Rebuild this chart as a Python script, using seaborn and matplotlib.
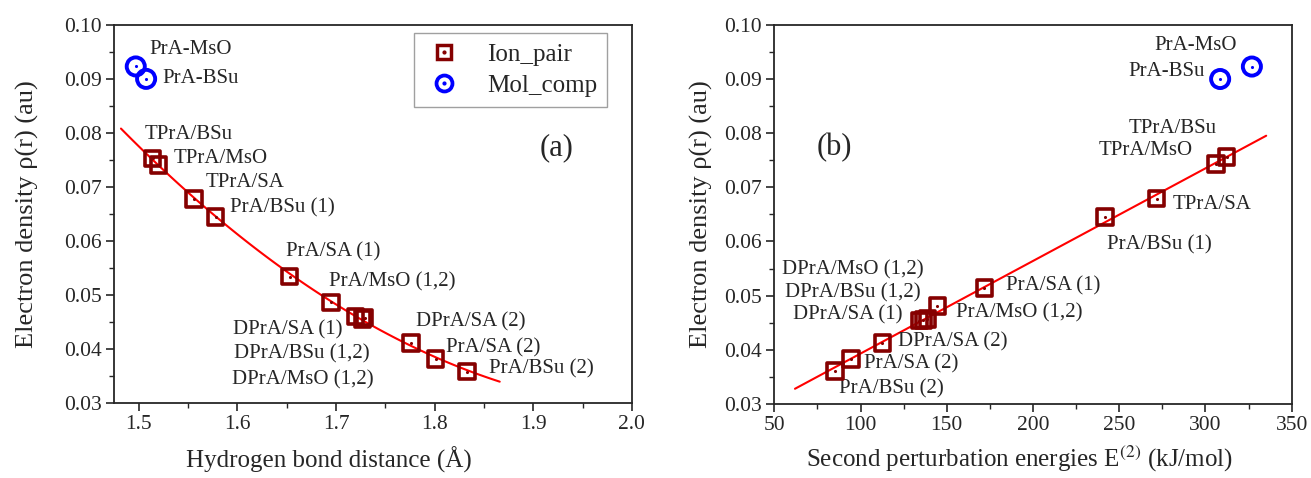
import numpy as np
import pandas as pd
import matplotlib
matplotlib.use("Agg")
import matplotlib.pyplot as plt
import seaborn as sns
from matplotlib.lines import Line2D

# --- data ---
ion_labels = ["TPrA/BSu", "TPrA/MsO", "TPrA/SA", "PrA/BSu (1)", "PrA/SA (1)",
              "PrA/MsO (1,2)", "DPrA/SA (1)", "DPrA/BSu (1,2)", "DPrA/MsO (1,2)",
              "DPrA/SA (2)", "PrA/SA (2)", "PrA/BSu (2)"]
hb_dist = [1.514, 1.520, 1.556, 1.578, 1.653, 1.695, 1.720, 1.727, 1.729, 1.776, 1.801, 1.833]
rho_a = [0.0753, 0.0741, 0.0678, 0.0644, 0.0534, 0.0486, 0.0460, 0.0455, 0.0458, 0.0411, 0.0381, 0.0358]
e2 = [312.2, 306.2, 271.6, 241.8, 171.8, 144.5, 134.1, 136.4, 138.7, 112.7, 94.5, 85.2]
rho_b = [0.0756, 0.0743, 0.0679, 0.0645, 0.0514, 0.0481, 0.0454, 0.0455, 0.0457, 0.0412, 0.0383, 0.0361]

mol_labels = ["PrA-MsO", "PrA-BSu"]
mol_hb_dist = [1.497, 1.5075]
mol_rho_a = [0.0923, 0.0900]
mol_e2 = [326.9, 308.5]
mol_rho_b = [0.0923, 0.0900]

# label offsets in pixels (dx right, dy up) relative to each point
ion_off_a = [(-8, 24), (15, 6), (12, 16), (14, 9), (-4, 25), (-2, 21),
             (-123, -13), (-129, -35), (-133, -62), (5, 21), (10, 11), (22, 3)]
mol_off_a = [(14, 17), (16, 0)]
ion_off_b = [(-98, 28), (-118, 14), (16, -6), (2, -28), (22, 2), (19, -7),
             (-126, 6), (-138, 27), (-145, 49), (16, 1), (13, -5), (4, -18)]
mol_off_b = [(-98, 21), (-92, 8)]

DARKRED = "#850000"
BLUE = "#0000FF"

sns.set_style("ticks")
plt.rcParams["font.family"] = ["Liberation Serif", "DejaVu Serif"]
plt.rcParams["mathtext.fontset"] = "stix"

ion_a = pd.DataFrame({"x": hb_dist, "y": rho_a})
mol_a = pd.DataFrame({"x": mol_hb_dist, "y": mol_rho_a})
ion_b = pd.DataFrame({"x": e2, "y": rho_b})
mol_b = pd.DataFrame({"x": mol_e2, "y": mol_rho_b})

fig = plt.figure(figsize=(13.11, 4.78), dpi=100)
ax1 = fig.add_axes([0.087, 0.157, 0.395, 0.791])
ax2 = fig.add_axes([0.5906, 0.155, 0.3947, 0.793])


def draw_points(ax, ion, mol):
    sns.scatterplot(data=ion, x="x", y="y", ax=ax, marker="s", s=125,
                    color=DARKRED, facecolor="none", edgecolor=DARKRED,
                    linewidth=2.6, zorder=4)
    sns.scatterplot(data=ion, x="x", y="y", ax=ax, marker="o", s=5,
                    color=DARKRED, edgecolor=DARKRED, linewidth=0, zorder=5)
    sns.scatterplot(data=mol, x="x", y="y", ax=ax, marker="o", s=170,
                    color=BLUE, facecolor="none", edgecolor=BLUE,
                    linewidth=2.8, zorder=4)
    sns.scatterplot(data=mol, x="x", y="y", ax=ax, marker="o", s=5,
                    color=BLUE, edgecolor=BLUE, linewidth=0, zorder=5)


def add_labels(ax, labels, xs, ys, offs):
    for lab, x, y, (dx, dy) in zip(labels, xs, ys, offs):
        ax.annotate(lab, (x, y), xytext=(dx, dy), textcoords="offset pixels",
                    ha="left", va="center", fontsize=15)


def style_axis(ax, ypad):
    ax.set_ylim(0.03, 0.10)
    ax.set_yticks(np.arange(0.03, 0.1001, 0.01))
    ax.yaxis.set_major_formatter(matplotlib.ticker.FormatStrFormatter("%.2f"))
    ax.yaxis.set_minor_locator(matplotlib.ticker.AutoMinorLocator(2))
    ax.xaxis.set_minor_locator(matplotlib.ticker.AutoMinorLocator(2))
    ax.tick_params(which="major", direction="out", length=6, width=1.2,
                   labelsize=15.5, top=False, right=False, pad=3)
    ax.tick_params(which="minor", direction="out", length=3.5, width=1.0,
                   top=False, right=False)
    for sp in ax.spines.values():
        sp.set_visible(True)
        sp.set_linewidth(1.3)
    ax.set_ylabel("Electron density ρ(r) (au)", fontsize=19, labelpad=ypad)


# --- panel (a) ---
coef_a = np.polyfit(hb_dist, rho_a, 2)
xa = np.linspace(1.482, 1.866, 100)
sns.lineplot(x=xa, y=np.polyval(coef_a, xa), ax=ax1, color="red", linewidth=1.5, zorder=3)
draw_points(ax1, ion_a, mol_a)
add_labels(ax1, ion_labels, hb_dist, rho_a, ion_off_a)
add_labels(ax1, mol_labels, mol_hb_dist, mol_rho_a, mol_off_a)
ax1.set_xlim(1.475, 2.0)
ax1.set_xticks([1.5, 1.6, 1.7, 1.8, 1.9, 2.0])
ax1.xaxis.set_major_formatter(matplotlib.ticker.FormatStrFormatter("%.1f"))
style_axis(ax1, 18)
ax1.set_xlabel("Hydrogen bond distance (Å)", fontsize=18, labelpad=9, x=0.415)
ax1.text(0.855, 0.675, "(a)", transform=ax1.transAxes, fontsize=22, ha="center", va="center")

handles = [
    (Line2D([], [], marker="s", ls="", ms=10.5, mfc="none", mec=DARKRED, mew=2.5),
     Line2D([], [], marker="o", ls="", ms=2, color=DARKRED)),
    (Line2D([], [], marker="o", ls="", ms=11.5, mfc="none", mec=BLUE, mew=2.7),
     Line2D([], [], marker="o", ls="", ms=2, color=BLUE)),
]
leg = ax1.legend(handles, ["Ion_pair", "Mol_comp"], loc="upper right",
                 bbox_to_anchor=(0.952, 0.978), borderaxespad=0, fontsize=18,
                 frameon=True, fancybox=False, edgecolor="#888888",
                 handlelength=1.6, handletextpad=0.9, borderpad=0.4,
                 labelspacing=0.35)
leg.get_frame().set_linewidth(1.0)

# --- panel (b) ---
coef_b = np.polyfit(e2, rho_b, 1)
xb = np.linspace(62, 335.2, 100)
sns.lineplot(x=xb, y=np.polyval(coef_b, xb), ax=ax2, color="red", linewidth=1.5, zorder=3)
draw_points(ax2, ion_b, mol_b)
add_labels(ax2, ion_labels, e2, rho_b, ion_off_b)
add_labels(ax2, mol_labels, mol_e2, mol_rho_b, mol_off_b)
ax2.set_xlim(50, 350)
ax2.set_xticks(np.arange(50, 351, 50))
style_axis(ax2, 8)
ax2.set_xlabel("Second perturbation energies E$^{(2)}$ (kJ/mol)", fontsize=18, labelpad=6, x=0.473)
ax2.text(0.116, 0.675, "(b)", transform=ax2.transAxes, fontsize=22, ha="center", va="center")

fig.savefig("out.png", dpi=100)
